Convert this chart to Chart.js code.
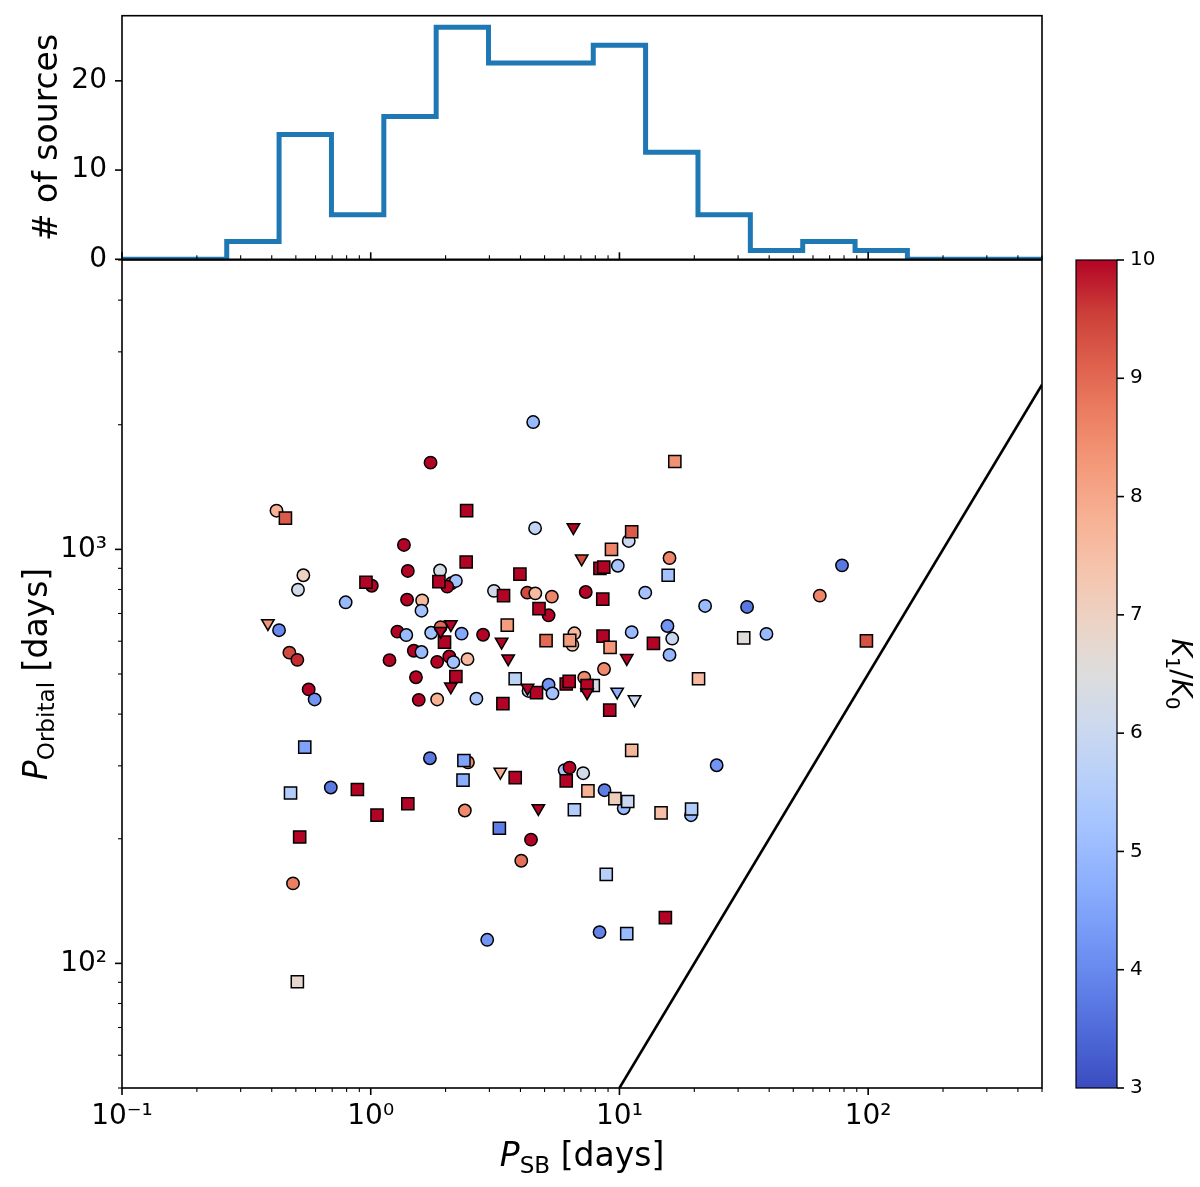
<!DOCTYPE html>
<html><head><meta charset="utf-8">
<script src="https://cdn.jsdelivr.net/npm/chart.js@4.4.1/dist/chart.umd.min.js"></script>
<style>
html,body{margin:0;padding:0;background:#fff;}
#wrap{position:relative;width:1200px;height:1187px;overflow:hidden;background:#fff;}
canvas{position:absolute;}
</style></head><body>
<div id="wrap">
<canvas id="main" width="1200" height="1187" style="left:0;top:0;"></canvas>
<canvas id="hist" width="1200" height="322" style="left:0;top:-30px;"></canvas>
<canvas id="cbar" width="160" height="890" style="left:1040px;top:230px;"></canvas>
</div>
<script>
// ---------- data ----------
const binEdges = [0.1,0.1624,0.2637,0.4281,0.6952,1.129,1.833,2.976,4.833,7.848,12.74,20.69,33.60,54.56,88.59,143.8,233.6,379.3,615.8,1000];
const binCounts = [0,0,2,14,5,16,26,22,22,24,12,5,1,2,1,0,0,0,0];

const circX = [1.74,0.418,1.36,0.536,0.51,1.41,1.90,1.01,2.11,2.20,2.03,1.40,1.61,1.60,0.793,0.428,1.28,1.39,1.75,2.32,0.471,0.507,1.49,1.60,1.19,1.85,2.07,2.15,2.45,1.52,0.563,0.595,1.56,1.85,2.66,1.91,
  4.50,4.58,10.9,9.85,3.13,4.26,4.59,5.35,7.32,12.7,5.19,2.83,6.59,6.47,11.2,8.67,7.22,4.31,5.19,5.38,
  15.9,22.1,32.6,78.5,63.9,15.6,16.3,15.9,39.0,
  1.73,2.46,0.691,2.39,0.487,2.94,
  4.41,4.03,6.02,6.30,7.15,8.71,10.4,19.4,24.6,8.32];
const circY = [1620,1240,1025,866,799,887,889,817,828,839,813,756,753,711,745,638,633,621,629,626,563,541,569,565,540,535,551,534,543,491,459,434,433,434,436,649,
  2030,1125,1048,913,794,786,783,769,789,786,693,622,627,588,631,514,490,455,471,449,
  953,730,726,915,773,653,609,556,625,
  313,306,266,234,156,114,
  199,177,293,297,288,262,237,228,301,119];
const circK = [10,7.8,10,7.0,6.2,10,6.3,10,9.3,5.2,10,10,7.6,5.2,5.0,4.0,10,5.0,5.2,4.6,9.4,9.7,10,5.0,10,10,10,5.2,7.6,10,10,4.2,10,7.8,5.3,9.0,
  5.0,5.8,6.0,5.3,6.2,9.4,7.6,8.6,10,5.2,10,10,7.6,7.4,5.0,8.5,8.5,5.5,4.2,5.2,
  8.6,5.0,3.7,3.7,8.6,4.2,6.0,4.9,5.0,
  3.7,8.5,3.7,8.5,8.7,4.2,
  10,8.9,5.3,10,6.2,3.8,5.0,5.0,4.2,3.9];

const sqX = [0.454,2.43,2.42,0.957,1.88,1.98,2.20,
  11.2,9.29,8.35,8.65,3.98,3.42,8.57,4.75,3.54,5.07,6.31,8.59,9.17,13.7,3.81,7.85,7.41,4.64,6.11,6.28,3.40,9.14,
  16.7,15.7,31.6,98.4,20.8,
  0.543,2.37,2.35,0.884,0.476,1.41,1.06,0.518,0.507,
  3.81,3.29,6.11,7.47,9.59,10.8,6.59,11.2,14.7,19.5,8.85,15.3,10.7];
const sqY = [1190,1240,932,833,836,597,493,
  1103,1000,900,906,871,773,758,719,656,602,603,617,580,593,487,469,469,451,473,480,424,409,
  1630,866,611,601,487,
  333,309,277,263,258,243,228,202,90.3,
  281,212,276,261,250,246,235,327,231,236,164,129,118];
const sqK = [9.2,10,10,10,10,10,10,
  9.2,8.6,10,10,10,10,10,10,8.2,9.0,8.2,10,8.3,10,5.7,6.2,10,10,10,10,10,10,
  8.4,5.2,6.6,9.3,7.6,
  4.5,4.5,4.7,10,5.5,10,10,10,6.8,
  10,3.8,10,7.8,7.1,6.0,5.5,7.7,7.5,5.5,5.6,10,5.0];

const triX = [0.386,1.91,2.10,2.10,6.53,7.05,3.36,3.57,10.7,4.27,7.41,9.79,11.5,3.32,4.72];
const triY = [663,635,659,466,1130,950,598,545,546,463,451,453,434,290,237];
const triK = [8.3,10,10,10,10,9.4,10,10,10,10,10,4.8,6.0,7.9,10];

const lineX = [10,500];
const lineY = [50,2500];

const xMajor = [0.1,1,10,100];
const xMajorLabels = ['10\u207B\u00B9','10\u2070','10\u00B9','10\u00B2'];
const xMinor = [0.2,0.3,0.4,0.5,0.6,0.7,0.8,0.9,2,3,4,5,6,7,8,9,20,30,40,50,60,70,80,90,200,300,400,500];
const yMajor = [100,1000];
const yMajorLabels = ['10\u00B2','10\u00B3'];
const yMinor = [50,60,70,80,90,200,300,400,500,600,700,800,900,2000,3000,4000,5000];
const histYTicks = [0,10,20];
const kMin = 3, kMax = 10;

// ---------- style ----------
Chart.defaults.font.family = '"DejaVu Sans"';
Chart.defaults.color = '#000';
const CW = [[59,76,192],[77,104,215],[98,130,234],[119,154,247],[141,176,254],[163,194,255],[184,208,249],[204,217,238],[221,221,221],[236,211,197],[245,196,173],[247,177,148],[244,154,123],[236,127,99],[222,96,77],[203,62,56],[180,4,38]];
function coolwarm(k){
  let f = (k-kMin)/(kMax-kMin); f = Math.min(1,Math.max(0,f));
  const p = f*(CW.length-1); const i = Math.min(CW.length-2, Math.floor(p)); const t = p-i;
  const c = CW[i].map((v,j)=>Math.round(v+(CW[i+1][j]-v)*t));
  return 'rgb('+c.join(',')+')';
}
const pts = (xs,ys)=>xs.map((x,i)=>({x:x,y:ys[i]}));

function tickPlugin(id, axes, frameW){
  return {id:id, afterDatasetsDraw(chart){
    const ctx=chart.ctx, ca=chart.chartArea;
    ctx.save(); ctx.strokeStyle='#000'; ctx.lineCap='butt';
    axes.forEach(a=>{
      const s=chart.scales[a.id];
      s.ticks.forEach(t=>{
        const maj = a.all || a.major.includes(t.value);
        const L = maj?7:4;
        ctx.lineWidth = maj?1.6:1.1;
        const p = s.getPixelForValue(t.value);
        ctx.beginPath();
        if(a.side==='bottom'){ctx.moveTo(p,ca.bottom);ctx.lineTo(p,ca.bottom+a.dir*L);}
        else if(a.side==='left'){ctx.moveTo(ca.left,p);ctx.lineTo(ca.left-a.dir*L,p);}
        else {ctx.moveTo(ca.right,p);ctx.lineTo(ca.right+a.dir*L,p);}
        ctx.stroke();
      });
    });
    ctx.lineWidth=frameW; ctx.strokeRect(ca.left,ca.top,ca.right-ca.left,ca.bottom-ca.top);
    ctx.restore();
  }};
}
function drawRich(ctx, parts, F, cx, cy, rot){
  ctx.save(); ctx.translate(cx,cy); ctx.rotate(rot);
  const fonts = parts.map(p=>(p[1]==='i'?'italic ':'')+(p[1]==='s'?(F*0.7):F)+'px "DejaVu Sans"');
  let w=0; const ws = parts.map((p,i)=>{ctx.font=fonts[i]; const m=ctx.measureText(p[0]).width; w+=m; return m;});
  let x=-w/2; ctx.textBaseline='alphabetic'; ctx.fillStyle='#000';
  parts.forEach((p,i)=>{ctx.font=fonts[i]; ctx.fillText(p[0], x, p[1]==='s'?F*0.2:0); x+=ws[i];});
  ctx.restore();
}
const titlePlugin = {id:'titles', afterDraw(chart){
  const ctx=chart.ctx;
  drawRich(ctx,[['P','i'],['SB','s'],[' [days]','']],33,582,1166,0);
  drawRich(ctx,[['P','i'],['Orbital','s'],[' [days]','']],33,47,674,-Math.PI/2);
  drawRich(ctx,[['# of sources','']],33,57,137.5,-Math.PI/2);
  drawRich(ctx,[['K','i'],['1','s'],['/',''],['K','i'],['0','s']],28,1172,674,Math.PI/2);
}};

function logAxis(min,max,major,minor,labels,fitKey,fitVal,pad){
  return {type:'logarithmic', min:min, max:max,
    grid:{display:false,drawTicks:false}, border:{display:false},
    afterBuildTicks:(s)=>{s.ticks = major.concat(minor).sort((a,b)=>a-b).map(v=>({value:v}));},
    afterFit:(s)=>{s[fitKey]=fitVal;},
    ticks:{autoSkip:false,maxRotation:0,minRotation:0,padding:pad,font:{size:28},
      callback:(v)=>{const i=major.indexOf(v); return i>=0?labels[i]:'';}}};
}

// ---------- main scatter ----------
new Chart(document.getElementById('main'),{
  type:'scatter',
  data:{datasets:[
    {type:'scatter',label:'tri',data:pts(triX,triY),pointStyle:'triangle',rotation:180,pointRadius:7.2,
      pointBackgroundColor:triK.map(coolwarm),pointBorderColor:'#000',pointBorderWidth:1.5,order:0},
    {type:'scatter',label:'sq',data:pts(sqX,sqY),pointStyle:'rect',pointRadius:8.6,
      pointBackgroundColor:sqK.map(coolwarm),pointBorderColor:'#000',pointBorderWidth:1.5,order:1},
    {type:'scatter',label:'circ',data:pts(circX,circY),pointStyle:'circle',pointRadius:6.2,
      pointBackgroundColor:circK.map(coolwarm),pointBorderColor:'#000',pointBorderWidth:1.5,order:2},
    {type:'line',label:'line',data:pts(lineX,lineY),borderColor:'#000',borderWidth:2.6,pointRadius:0,fill:false,order:3,clip:0}
  ]},
  options:{responsive:false,animation:false,events:[],
    layout:{padding:{top:260,right:158,left:0,bottom:0}},
    plugins:{legend:{display:false},tooltip:{enabled:false}},
    scales:{
      x:logAxis(0.1,500,xMajor,xMinor,xMajorLabels,'height',99,12),
      y:logAxis(50,5000,yMajor,yMinor,yMajorLabels,'width',122,15)
    }},
  plugins:[tickPlugin('mticks',[{id:'x',side:'bottom',dir:1,major:xMajor},{id:'y',side:'left',dir:1,major:yMajor}],1.6),titlePlugin]
});

// ---------- histogram ----------
const histPts = binEdges.map((e,i)=>({x:e,y:binCounts[Math.min(i,binCounts.length-1)]}));
const hx = logAxis(0.1,500,xMajor,xMinor,xMajorLabels,'height',32.7,12);
hx.ticks.display = false;
new Chart(document.getElementById('hist'),{
  type:'line',
  data:{datasets:[{data:histPts,stepped:'before',borderColor:'#1f77b4',borderWidth:5,pointRadius:0,fill:false,clip:0,borderJoinStyle:'miter'}]},
  options:{responsive:false,animation:false,events:[],
    layout:{padding:{top:45.7,right:158,left:0,bottom:0}},
    plugins:{legend:{display:false},tooltip:{enabled:false}},
    scales:{
      x:hx,
      y:{type:'linear',min:0,max:27.3,grid:{display:false,drawTicks:false},border:{display:false},
        afterBuildTicks:(s)=>{s.ticks=histYTicks.map(v=>({value:v}));},
        afterFit:(s)=>{s.width=122;},
        ticks:{padding:15,font:{size:28},callback:(v)=>String(v)}}
    }},
  plugins:[tickPlugin('hticks',[{id:'x',side:'bottom',dir:-1,major:xMajor},{id:'y',side:'left',dir:1,major:histYTicks}],1.6)]
});

// ---------- colorbar ----------
new Chart(document.getElementById('cbar'),{
  type:'bar',
  data:{labels:['K'],datasets:[{data:[[kMin,kMax]],barPercentage:1,categoryPercentage:1,borderWidth:0,
    backgroundColor:(c)=>{const ca=c.chart.chartArea; if(!ca) return '#ccc';
      const g=c.chart.ctx.createLinearGradient(0,ca.bottom,0,ca.top);
      CW.forEach((col,i)=>g.addColorStop(i/(CW.length-1),'rgb('+col.join(',')+')')); return g;}}]},
  options:{responsive:false,animation:false,events:[],
    layout:{padding:{top:30,left:36,right:0,bottom:32}},
    plugins:{legend:{display:false},tooltip:{enabled:false}},
    scales:{
      x:{display:false},
      y:{type:'linear',position:'right',min:kMin,max:kMax,grid:{display:false,drawTicks:false},border:{display:false},
        afterFit:(s)=>{s.width=83;},
        ticks:{stepSize:1,padding:13,font:{size:20}}}
    }},
  plugins:[tickPlugin('cticks',[{id:'y',side:'right',dir:1,all:true,major:[]}],1.2)]
});
</script>
</body></html>
